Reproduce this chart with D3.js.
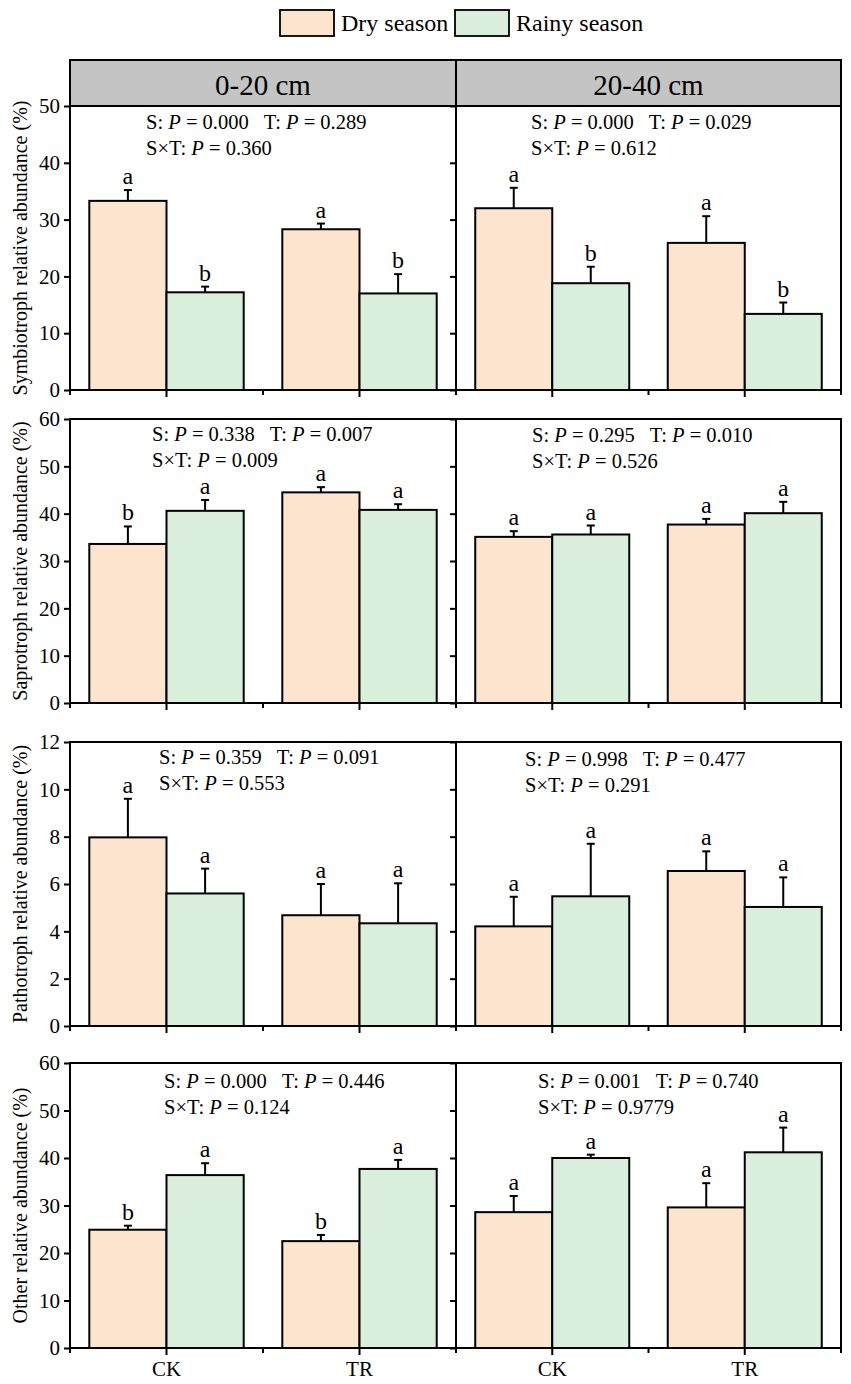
<!DOCTYPE html>
<meta charset="utf-8">
<html>
<style>
body { margin: 0; background: #fff; }
svg { font-family: "Liberation Serif", "Times New Roman", serif; }
.tick line { stroke: #000; stroke-width: 2px; }
.tick text { font-size: 21px; fill: #000; font-family: "Liberation Serif", "Times New Roman", serif; }
</style>
<body>
<script src="https://cdnjs.cloudflare.com/ajax/libs/d3/7.8.5/d3.min.js"></script>
<script>
	// categories
	var depths = ["0-20 cm", "20-40 cm"];
	var treatments = ["CK", "TR"];
	var seasons = ["Dry season", "Rainy season"];
	var guilds = ["Symbiotroph", "Saprotroph", "Pathotroph", "Other"];
	var yMax = [50, 60, 12, 60];
	var yStep = [10, 10, 2, 10];

	// values in order: 0-20 CK dry, CK rainy, TR dry, TR rainy, 20-40 CK dry, CK rainy, TR dry, TR rainy
	var symbiotrophMean = [33.3, 17.2, 28.3, 17.0, 32.0, 18.8, 25.9, 13.4];
	var symbiotrophErr = [1.9, 1.0, 1.0, 3.4, 3.6, 2.9, 4.7, 2.0];
	var symbiotrophLetters = ["a", "b", "a", "b", "a", "b", "a", "b"];

	var saprotrophMean = [33.6, 40.6, 44.5, 40.8, 35.1, 35.6, 37.7, 40.1];
	var saprotrophErr = [3.7, 2.3, 1.1, 1.2, 1.2, 1.9, 1.2, 2.4];
	var saprotrophLetters = ["b", "a", "a", "a", "a", "a", "a", "a"];

	var pathotrophMean = [7.97, 5.6, 4.68, 4.34, 4.21, 5.48, 6.55, 5.03];
	var pathotrophErr = [1.63, 1.05, 1.32, 1.69, 1.25, 2.22, 0.83, 1.25];
	var pathotrophLetters = ["a", "a", "a", "a", "a", "a", "a", "a"];

	var otherMean = [24.9, 36.4, 22.5, 37.7, 28.6, 40.0, 29.6, 41.2];
	var otherErr = [0.85, 2.5, 1.3, 1.9, 3.4, 0.7, 5.1, 5.2];
	var otherLetters = ["b", "a", "b", "a", "a", "a", "a", "a"];

	// S, T, SxT p values: [0-20 cm, 20-40 cm]
	var symbiotrophP = [["0.000", "0.289", "0.360"], ["0.000", "0.029", "0.612"]];
	var saprotrophP = [["0.338", "0.007", "0.009"], ["0.295", "0.010", "0.526"]];
	var pathotrophP = [["0.359", "0.091", "0.553"], ["0.998", "0.477", "0.291"]];
	var otherP = [["0.000", "0.446", "0.124"], ["0.001", "0.740", "0.9779"]];

	var means = [symbiotrophMean, saprotrophMean, pathotrophMean, otherMean];
	var errs = [symbiotrophErr, saprotrophErr, pathotrophErr, otherErr];
	var letters = [symbiotrophLetters, saprotrophLetters, pathotrophLetters, otherLetters];
	var pvals = [symbiotrophP, saprotrophP, pathotrophP, otherP];

	var colors = ["#fde4cf", "#d9eedb"];

	var width = 851;
	var height = 1384;
	var xEdges = [70, 456, 841];
	var panelTop = [106, 419, 742, 1063];
	var panelBottom = [390, 703, 1026, 1348];
	// p-value text position inside each panel (x from panel left, first baseline from panel top)
	var pTextX = [[76, 75], [82, 76], [89, 69], [94, 82]];
	var pTextY = [[23, 23], [22, 23], [22, 24], [25, 25]];

	var svg = d3.select("body")
				.append("svg")
				.attr("width", width)
				.attr("height", height);

	var color = d3.scaleOrdinal().domain(seasons).range(colors);

	// legend
	var legendX = [280, 455];
	var legend = svg.append("g").attr("class", "legend");
	seasons.forEach(function(s, i){
		legend.append("rect")
			.attr("x", legendX[i]).attr("y", 10)
			.attr("width", 54).attr("height", 26)
			.attr("fill", color(s))
			.attr("stroke", "#000").attr("stroke-width", 1.8);
		legend.append("text")
			.attr("x", legendX[i] + 61).attr("y", 31)
			.attr("font-size", 24)
			.text(s);
	});

	// header strip
	var header = svg.append("g").attr("class", "header");
	header.append("rect")
		.attr("x", xEdges[0]).attr("y", 60)
		.attr("width", xEdges[2] - xEdges[0]).attr("height", 46)
		.attr("fill", "#c4c4c4")
		.attr("stroke", "#000").attr("stroke-width", 2);
	header.append("line")
		.attr("x1", xEdges[1]).attr("x2", xEdges[1])
		.attr("y1", 60).attr("y2", 106)
		.attr("stroke", "#000").attr("stroke-width", 2);
	depths.forEach(function(d, i){
		header.append("text")
			.attr("x", (xEdges[i] + xEdges[i + 1]) / 2)
			.attr("y", 95)
			.attr("text-anchor", "middle")
			.attr("font-size", 29)
			.text(d);
	});

	guilds.forEach(function(guild, g){
		drawPanel(g);
	});

	function drawPanel(g){
		var top = panelTop[g], bottom = panelBottom[g];
		var y = d3.scaleLinear().domain([0, yMax[g]]).range([bottom, top]);
		var ticks = d3.range(0, yMax[g] + yStep[g] / 2, yStep[g]);

		var panel = svg.append("g").attr("class", "panel");

		depths.forEach(function(depth, di){
			var x = d3.scaleBand().domain(treatments).range([xEdges[di], xEdges[di + 1]]);
			var xs = d3.scaleBand().domain(seasons).range([0, x.bandwidth()]).paddingOuter(0.25);

			var rows = [];
			treatments.forEach(function(t, ti){
				seasons.forEach(function(s, si){
					var k = di * 4 + ti * 2 + si;
					rows.push({t: t, s: s, mean: means[g][k], err: errs[g][k], letter: letters[g][k]});
				});
			});

			var bars = panel.append("g").selectAll("g")
				.data(rows).enter().append("g")
				.attr("transform", function(d){ return "translate(" + x(d.t) + ",0)"; });

			// error bars (upper only)
			bars.append("line")
				.attr("x1", function(d){ return xs(d.s) + xs.bandwidth() / 2; })
				.attr("x2", function(d){ return xs(d.s) + xs.bandwidth() / 2; })
				.attr("y1", function(d){ return y(d.mean); })
				.attr("y2", function(d){ return y(d.mean + d.err); })
				.attr("stroke", "#000").attr("stroke-width", 2);
			bars.append("line")
				.attr("x1", function(d){ return xs(d.s) + xs.bandwidth() / 2 - 4; })
				.attr("x2", function(d){ return xs(d.s) + xs.bandwidth() / 2 + 4; })
				.attr("y1", function(d){ return y(d.mean + d.err); })
				.attr("y2", function(d){ return y(d.mean + d.err); })
				.attr("stroke", "#000").attr("stroke-width", 2);

			bars.append("rect")
				.attr("x", function(d){ return xs(d.s); })
				.attr("y", function(d){ return y(d.mean); })
				.attr("width", xs.bandwidth())
				.attr("height", function(d){ return y(0) - y(d.mean); })
				.attr("fill", function(d){ return color(d.s); })
				.attr("stroke", "#000").attr("stroke-width", 2);

			bars.append("text")
				.attr("x", function(d){ return xs(d.s) + xs.bandwidth() / 2; })
				.attr("y", function(d){ return y(d.mean + d.err) - 6; })
				.attr("text-anchor", "middle")
				.attr("font-size", 24)
				.text(function(d){ return d.letter; });

			// y axis
			var yAxis = d3.axisLeft(y).tickValues(ticks).tickSize(6).tickPadding(4).tickSizeOuter(0);
			if (di > 0) yAxis.tickFormat("");
			var ya = panel.append("g")
				.attr("transform", "translate(" + xEdges[di] + ",0)")
				.call(yAxis)
				.attr("font-family", null);
			ya.select(".domain").remove();

			// x axis: major ticks at treatment centres, minor at band edges
			var xAxis = d3.axisBottom(x).tickSize(7).tickPadding(6).tickSizeOuter(0);
			if (g < guilds.length - 1) xAxis.tickFormat("");
			var xa = panel.append("g")
				.attr("transform", "translate(0," + bottom + ")")
				.call(xAxis)
				.attr("font-family", null);
			xa.select(".domain").remove();
			var edges = treatments.map(function(t){ return x(t); }).concat([x.range()[1]]);
			xa.selectAll(".minor").data(edges).enter().append("line")
				.attr("class", "minor")
				.attr("x1", function(d){ return d; }).attr("x2", function(d){ return d; })
				.attr("y1", 0).attr("y2", 5)
				.attr("stroke", "#000").attr("stroke-width", 2);

			// p-value text
			var p = pvals[g][di];
			var tx = xEdges[di] + pTextX[g][di];
			var ty = top + pTextY[g][di];
			var t1 = panel.append("text").attr("x", tx).attr("y", ty).attr("font-size", 20.5)
				.style("white-space", "pre");
			t1.append("tspan").text("S: ");
			t1.append("tspan").attr("font-style", "italic").text("P");
			t1.append("tspan").text(" = " + p[0] + "   T: ");
			t1.append("tspan").attr("font-style", "italic").text("P");
			t1.append("tspan").text(" = " + p[1]);
			var t2 = panel.append("text").attr("x", tx).attr("y", ty + 26).attr("font-size", 20.5);
			t2.append("tspan").text("S\u00d7T: ");
			t2.append("tspan").attr("font-style", "italic").text("P");
			t2.append("tspan").text(" = " + p[2]);
		});

		// frame
		panel.append("rect")
			.attr("x", xEdges[0]).attr("y", top)
			.attr("width", xEdges[2] - xEdges[0]).attr("height", bottom - top)
			.attr("fill", "none")
			.attr("stroke", "#000").attr("stroke-width", 2);
		panel.append("line")
			.attr("x1", xEdges[1]).attr("x2", xEdges[1])
			.attr("y1", top).attr("y2", bottom)
			.attr("stroke", "#000").attr("stroke-width", 2);

		// y title
		panel.append("text")
			.attr("transform", "translate(27," + (top + bottom) / 2 + ") rotate(-90)")
			.attr("text-anchor", "middle")
			.attr("font-size", 20)
			.text(guilds[g] + " relative abundance (%)");
	}
</script>
</body>
</html>
